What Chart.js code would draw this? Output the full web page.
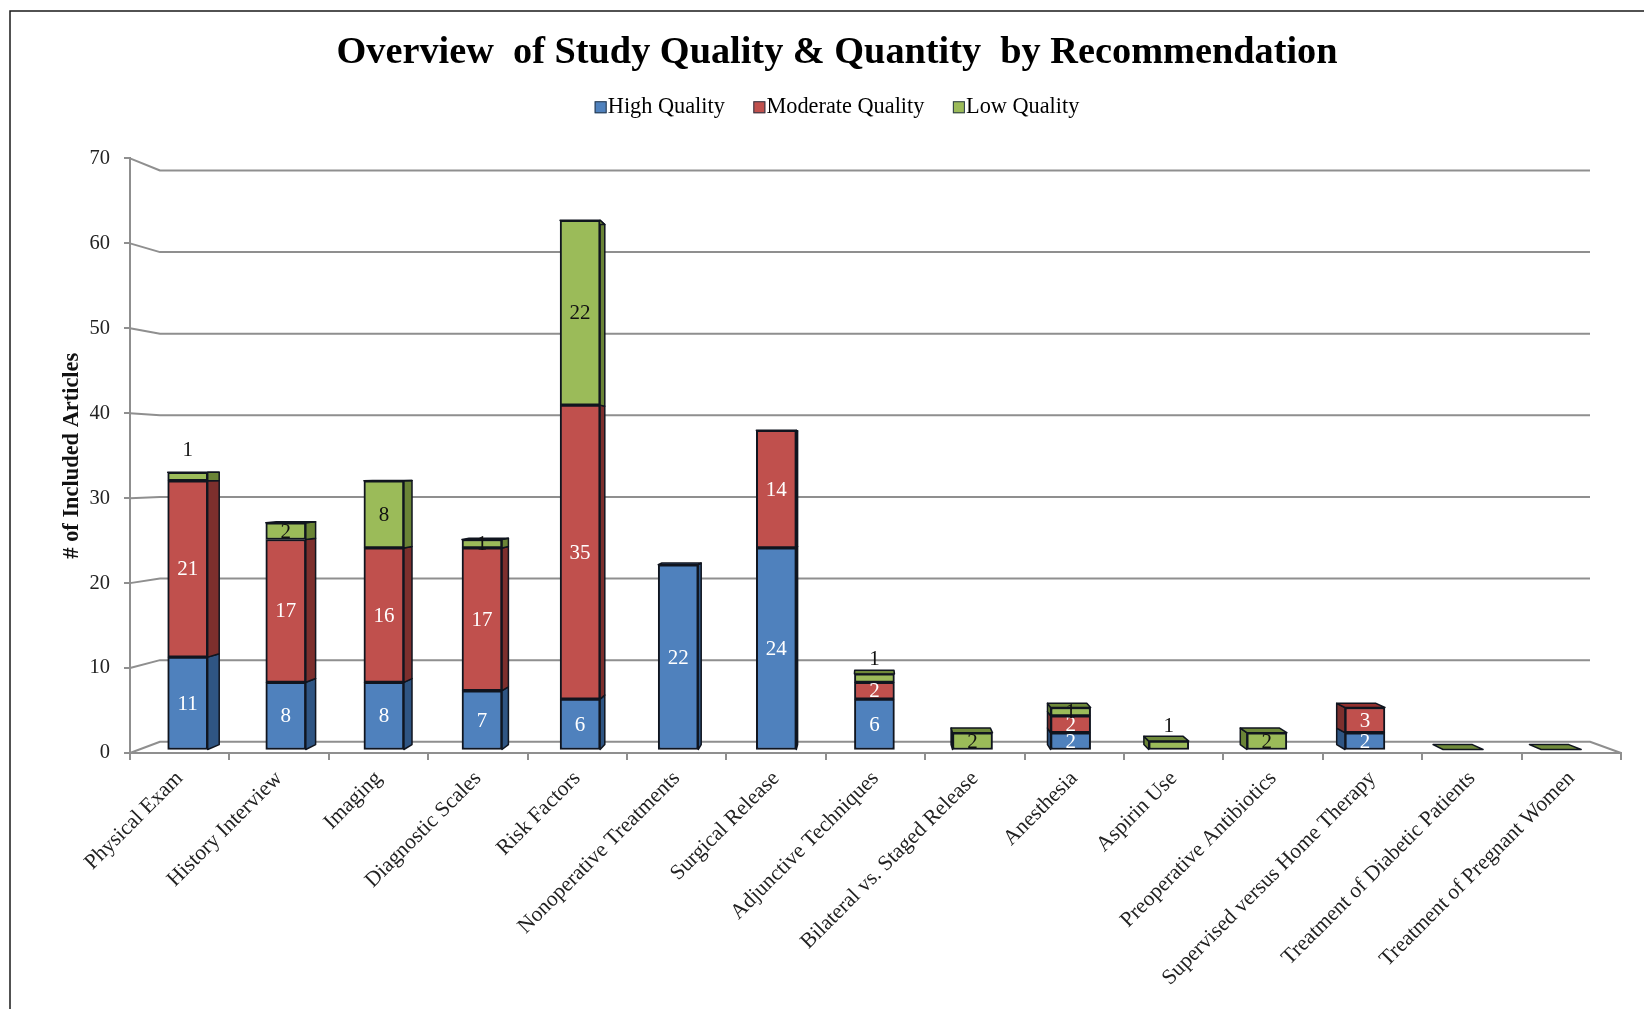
<!DOCTYPE html>
<html>
<head>
<meta charset="utf-8">
<style>
html,body{margin:0;padding:0;background:#fff;overflow:hidden}
canvas{position:absolute;left:0;top:0}
</style>
<script src="https://cdn.jsdelivr.net/npm/chart.js@4/dist/chart.umd.min.js"></script>
</head>
<body>
<canvas id="c" width="1644" height="1009" style="width:1644px;height:1009px"></canvas>
<script>
const categories = ["Physical Exam","History Interview","Imaging","Diagnostic Scales","Risk Factors","Nonoperative Treatments","Surgical Release","Adjunctive Techniques","Bilateral vs. Staged Release","Anesthesia","Aspirin Use","Preoperative Antibiotics","Supervised versus Home Therapy","Treatment of Diabetic Patients","Treatment of Pregnant Women"];
const highQuality = [11,8,8,7,6,22,24,6,0,2,0,0,2,0,0];
const moderateQuality = [21,17,16,17,35,0,14,2,0,2,0,0,3,0,0];
const lowQuality = [1,2,8,1,22,0,0,1,2,1,1,2,0,0,0];
const yTicks = [0,10,20,30,40,50,60,70];

const SERIF = '"Liberation Serif","Times New Roman",serif';
const GRID = '#8f8f8f';
const series = [
  {name:'High Quality', values:highQuality, front:'#4f81bd', side:'#2f5583', top:'#3f6797', text:'#ffffff'},
  {name:'Moderate Quality', values:moderateQuality, front:'#c0504d', side:'#7d2f2d', top:'#93302e', text:'#ffffff'},
  {name:'Low Quality', values:lowQuality, front:'#9bbb59', side:'#6a8436', top:'#6f8a3a', text:'#111111'}
];
const BAR_W = 40, EDGE = '#10151f';
const DEPTH = 0.0174, VX = 870, VY = 467;
const lift = {0:27, 7:20, 10:20};
const back = (x,y)=>[x+DEPTH*(VX-x), y+DEPTH*(VY-y)];
function poly(ctx,pts,fill){
  ctx.beginPath();
  pts.forEach((p,i)=> i?ctx.lineTo(p[0],p[1]):ctx.moveTo(p[0],p[1]));
  ctx.closePath();
  ctx.fillStyle=fill; ctx.fill();
  ctx.strokeStyle=EDGE; ctx.lineWidth=1.5; ctx.stroke();
}
const scene = {
  id:'scene',
  beforeDatasetsDraw(chart){
    const ctx=chart.ctx, s=chart.scales, a=chart.chartArea;
    ctx.save();
    const wallL=160, wallR=1590;
    ctx.strokeStyle=GRID; ctx.lineWidth=2; ctx.lineJoin='round';
    yTicks.forEach(t=>{
      ctx.beginPath();
      ctx.moveTo(a.left,s.y.getPixelForValue(t));
      ctx.lineTo(wallL,s.yw.getPixelForValue(t));
      ctx.lineTo(wallR,s.yw.getPixelForValue(t));
      if(t===0) ctx.lineTo(a.right,s.y.getPixelForValue(0));
      ctx.stroke();
    });
    categories.forEach((c,i)=>{
      const cx=s.xb.getPixelForValue(i), l=cx-BAR_W/2, r=cx+BAR_W/2;
      const ex = r<VX ? r : (l>VX ? l : null);
      let sum=0, topS=series[2];
      series.forEach(se=>{
        const v=se.values[i];
        if(!v) return;
        const y0=s.yb.getPixelForValue(sum), y1=s.yb.getPixelForValue(sum+v);
        if(ex!==null) poly(ctx,[[ex,y0],back(ex,y0),back(ex,y1),[ex,y1]],se.side);
        sum+=v; topS=se;
      });
      const yt=s.yb.getPixelForValue(sum);
      poly(ctx,[[l,yt],[r,yt],back(r,yt),back(l,yt)],topS.top);
    });
    ctx.restore();
  },
  afterDatasetsDraw(chart){
    const ctx=chart.ctx, s=chart.scales;
    ctx.save();
    ctx.textAlign='center'; ctx.textBaseline='middle';
    ctx.font='21px '+SERIF;
    categories.forEach((c,i)=>{
      const cx=s.xb.getPixelForValue(i);
      let sum=0;
      series.forEach((se,k)=>{
        const v=se.values[i];
        if(!v) return;
        let y=s.yb.getPixelForValue(sum+v/2)+1;
        if(k===2 && lift[i]) y-=lift[i];
        ctx.fillStyle=se.text;
        ctx.fillText(String(v),cx,y);
        sum+=v;
      });
    });
    ctx.restore();
  },
  afterDraw(chart){
    const ctx=chart.ctx;
    ctx.save();
    chart.legend.legendHitBoxes.forEach((b,i)=>{
      const m=12, y=b.top+b.height/2-m/2;
      ctx.fillStyle=series[i].front; ctx.strokeStyle='#2b3a4a'; ctx.lineWidth=1;
      ctx.fillRect(b.left,y,m,m); ctx.strokeRect(b.left+.5,y+.5,m-1,m-1);
    });
    ctx.strokeStyle='#1a1a1a'; ctx.lineWidth=1.5;
    ctx.beginPath(); ctx.moveTo(10,1009); ctx.lineTo(10,11); ctx.lineTo(1644,11); ctx.stroke();
    ctx.restore();
  }
};

new Chart(document.getElementById('c'),{
  type:'bar',
  plugins:[scene],
  data:{
    labels:categories,
    datasets:series.map(se=>({
      label:se.name,
      data:se.values.map((v,i)=>({x:i,y:v?v:null})),
      backgroundColor:se.front,
      borderColor:EDGE,
      borderWidth:2,
      borderSkipped:false,
      barThickness:BAR_W,
      xAxisID:'xb',
      yAxisID:'yb'
    }))
  },
  options:{
    responsive:false,
    animation:false,
    layout:{padding:{left:30,right:0,top:0,bottom:0}},
    plugins:{
      tooltip:{enabled:false},
      title:{display:true,text:'Overview  of Study Quality & Quantity  by Recommendation',color:'#000',
        font:{family:SERIF,size:38.3,weight:'bold',lineHeight:0.747},padding:{top:39,bottom:0}},
      legend:{display:true,position:'top',
        labels:{boxWidth:2,boxHeight:12,padding:28.5,color:'#333',font:{family:SERIF,size:22.3},
          generateLabels(chart){return series.map((se,i)=>({text:se.name,fillStyle:'rgba(0,0,0,0)',strokeStyle:'rgba(0,0,0,0)',lineWidth:0,datasetIndex:i}));}}}
    },
    scales:{
      x:{type:'category',position:'bottom',offset:true,
        grid:{offset:true,drawOnChartArea:false,drawTicks:true,tickLength:7,color:GRID,lineWidth:2},
        border:{color:GRID,width:2},
        ticks:{color:'#222',font:{family:SERIF,size:21.6},minRotation:45,maxRotation:45,autoSkip:false,padding:6},
        afterFit(s){s.height=1009-753;}},
      y:{type:'linear',position:'left',min:0,max:70,
        afterBuildTicks(s){s.ticks=yTicks.map(v=>({value:v}));},
        grid:{drawOnChartArea:false,drawTicks:true,tickLength:6,color:GRID,lineWidth:2},
        border:{color:GRID,width:2},
        ticks:{color:'#222',font:{family:SERIF,size:20.5},padding:14},
        title:{display:true,text:'# of Included Articles',color:'#111',font:{family:SERIF,size:22.4,weight:'bold'},padding:{top:29,bottom:0}},
        afterFit(s){s.width=100;}},
      xb:{type:'linear',position:'top',stacked:true,offset:false,min:-0.588,max:14.61,
        grid:{display:false,offset:false},border:{display:false},ticks:{display:false},
        afterFit(s){s.height=30;}},
      yb:{type:'linear',display:false,stacked:true,min:-0.416,max:70.37},
      yw:{type:'linear',position:'right',min:-1.38,max:71.48,
        grid:{display:false},border:{display:false},ticks:{display:false},
        afterFit(s){s.width=23;}}
    }
  }
});
</script>
</body>
</html>
